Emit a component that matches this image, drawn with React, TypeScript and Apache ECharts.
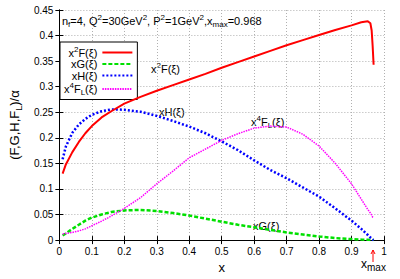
import React, { useEffect, useRef } from "react";
import * as echarts from "echarts";

const xs = [0.01, 0.02, 0.04, 0.06, 0.08, 0.1, 0.13, 0.16, 0.2, 0.25, 0.3, 0.35, 0.4, 0.45, 0.5, 0.55, 0.6, 0.65, 0.7, 0.75, 0.8, 0.85, 0.9, 0.93, 0.95, 0.958, 0.962, 0.965, 0.968];
const x2F = [0.13, 0.148, 0.172, 0.192, 0.209, 0.223, 0.24, 0.252, 0.267, 0.28, 0.292, 0.303, 0.314, 0.325, 0.337, 0.348, 0.359, 0.37, 0.381, 0.391, 0.401, 0.411, 0.42, 0.426, 0.428, 0.424, 0.41, 0.38, 0.343];
const xG = [0.009, 0.013, 0.022, 0.03, 0.038, 0.044, 0.05, 0.055, 0.058, 0.059, 0.057, 0.053, 0.048, 0.042, 0.036, 0.03, 0.025, 0.02, 0.015, 0.011, 0.007, 0.004, 0.002, 0.001, 0.0005, 0.0003, 0.0002, 0.0001, 0];
const xH = [0.158, 0.183, 0.21, 0.226, 0.237, 0.245, 0.252, 0.2555, 0.255, 0.251, 0.243, 0.233, 0.222, 0.209, 0.193, 0.176, 0.156, 0.137, 0.121, 0.103, 0.085, 0.062, 0.038, 0.022, 0.01, 0.005, 0.003, 0.001, 0];
const x4FL = [0.012, 0.013, 0.015, 0.018, 0.022, 0.028, 0.037, 0.047, 0.062, 0.083, 0.11, 0.135, 0.161, 0.178, 0.195, 0.208, 0.219, 0.223, 0.221, 0.207, 0.184, 0.15, 0.11, 0.08, 0.06, 0.053, 0.049, 0.045, 0.044];

const seriesNames = ["x2F", "xG", "xH", "x4FL"];
const FONT = "Liberation Sans, Arial, sans-serif";

const richBase = {
  n: { fontSize: 11, lineHeight: 15, fontFamily: FONT, color: "#000", verticalAlign: "middle" as const },
  sup: { fontSize: 8, lineHeight: 8, fontFamily: FONT, color: "#000", verticalAlign: "top" as const },
  sub: { fontSize: 8, lineHeight: 8, fontFamily: FONT, color: "#000", verticalAlign: "bottom" as const },
};

const legendText: Record<string, string> = {
  x2F: "{n|x}{sup|2}{n|F(ξ)}",
  xG: "{n|xG(ξ)}",
  xH: "{n|xH(ξ)}",
  x4FL: "{n|x}{sup|4}{n|F}{sub|L}{n|(ξ)}",
};

export default function App() {
  const ref = useRef<HTMLDivElement>(null);
  useEffect(() => {
    if (!ref.current) return;
    const chart = echarts.init(ref.current, null, { renderer: "svg" });
    const mk = (ys: number[]) => xs.map((x, i) => [x, ys[i]]);
    const gridLine = { show: true, lineStyle: { color: "#b0b0b0", type: [1, 2] as any, width: 1 } };
    chart.setOption({
      animation: false,
      backgroundColor: "#fff",
      grid: { left: 56, right: 16, top: 10, bottom: 30 },
      xAxis: [
        {
          type: "value", min: 0, max: 1, interval: 0.1,
          axisLine: { lineStyle: { color: "#000" } },
          axisTick: { inside: true, length: 4, lineStyle: { color: "#000" } },
          axisLabel: { fontSize: 10, color: "#000", fontFamily: FONT, margin: 6 },
          splitLine: gridLine,
          name: "x", nameLocation: "middle", nameGap: 20,
          nameTextStyle: { fontSize: 13, fontFamily: FONT, color: "#000" },
        },
        {
          type: "value", position: "top", min: 0, max: 1, interval: 0.1,
          axisLine: { show: true, lineStyle: { color: "#000" } },
          axisTick: { show: true, inside: true, length: 4, lineStyle: { color: "#000" } },
          axisLabel: { show: false }, splitLine: { show: false },
        },
      ],
      yAxis: [
        {
          type: "value", min: 0, max: 0.45, interval: 0.05,
          axisLine: { show: true, lineStyle: { color: "#000" } },
          axisTick: { show: true, inside: true, length: 4, lineStyle: { color: "#000" } },
          axisLabel: { fontSize: 10, color: "#000", fontFamily: FONT, margin: 6 },
          splitLine: gridLine,
          name: "{n|(F,G,H,F}{sub|L}{n|)/α}", nameLocation: "middle", nameGap: 34, nameRotate: 90,
          nameTextStyle: {
            rich: {
              n: { fontSize: 13, lineHeight: 17, fontFamily: FONT, color: "#000", verticalAlign: "middle" },
              sub: { fontSize: 9, lineHeight: 9, fontFamily: FONT, color: "#000", verticalAlign: "bottom" },
            },
          },
        },
        {
          type: "value", position: "right", min: 0, max: 0.45, interval: 0.05,
          axisLine: { show: true, lineStyle: { color: "#000" } },
          axisTick: { show: true, inside: true, length: 4, lineStyle: { color: "#000" } },
          axisLabel: { show: false }, splitLine: { show: false },
        },
      ],
      legend: {
        orient: "vertical", left: 60, top: 42, align: "right",
        itemWidth: 30, itemHeight: 10, itemGap: 0.5,
        padding: [3, 4, 3, 4],
        borderColor: "#000", borderWidth: 1, backgroundColor: "#fff",
        itemStyle: { opacity: 0 },
        formatter: (name: string) => legendText[name],
        textStyle: { width: 36, align: "right", rich: richBase },
        data: seriesNames,
      },
      series: [
        {
          name: "x2F", type: "line", data: mk(x2F), showSymbol: false, symbol: "none",
          lineStyle: { color: "#ff0000", width: 2 }, itemStyle: { color: "#ff0000" }, z: 4,
        },
        {
          name: "xG", type: "line", data: mk(xG), showSymbol: false, symbol: "none",
          lineStyle: { color: "#00e000", width: 2.5, type: [4, 2] }, itemStyle: { color: "#00e000" }, z: 3,
        },
        {
          name: "xH", type: "line", data: mk(xH), showSymbol: false, symbol: "none",
          lineStyle: { color: "#0000ff", width: 2.5, type: [2, 2] }, itemStyle: { color: "#0000ff" }, z: 3,
        },
        {
          name: "x4FL", type: "line", data: mk(x4FL), showSymbol: false, symbol: "none",
          lineStyle: { color: "#ff00ff", width: 1.5, type: [1.5, 1] }, itemStyle: { color: "#ff00ff" }, z: 3,
        },
      ],
      graphic: [
        {
          type: "text", left: 62, top: 13,
          style: {
            text: "{n|n}{sub|f}{n|=4, Q}{sup|2}{n|=30GeV}{sup|2}{n|, P}{sup|2}{n|=1GeV}{sup|2}{n|,x}{sub|max}{n|=0.968}",
            rich: richBase,
          },
        },
        { type: "text", left: 151, top: 61, style: { text: "{n|x}{sup|2}{n|F(ξ)}", rich: richBase } },
        { type: "text", left: 159, top: 106, style: { text: "{n|xH(ξ)}", rich: richBase } },
        { type: "text", left: 251, top: 114, style: { text: "{n|x}{sup|4}{n|F}{sub|L}{n|(ξ)}", rich: richBase } },
        { type: "text", left: 253, top: 220, style: { text: "{n|xG(ξ)}", rich: richBase } },
        {
          type: "text", left: 361, top: 258,
          style: {
            text: "{n|x}{sub|max}",
            rich: {
              n: { fontSize: 12, lineHeight: 16, fontFamily: FONT, color: "#ff0000", verticalAlign: "middle" },
              sub: { fontSize: 10, lineHeight: 10, fontFamily: FONT, color: "#ff0000", verticalAlign: "bottom" },
            },
          },
        },
        { type: "line", shape: { x1: 373, y1: 262, x2: 373, y2: 250 }, style: { stroke: "#ff0000", lineWidth: 1 } },
        { type: "polyline", shape: { points: [[371, 254], [373, 250], [375, 254]] }, style: { stroke: "#ff0000", lineWidth: 1, fill: "none" } },
      ],
    });
    return () => chart.dispose();
  }, []);
  return <div ref={ref} style={{ width: 400, height: 279, position: "absolute", left: 0, top: 0 }} />;
}
